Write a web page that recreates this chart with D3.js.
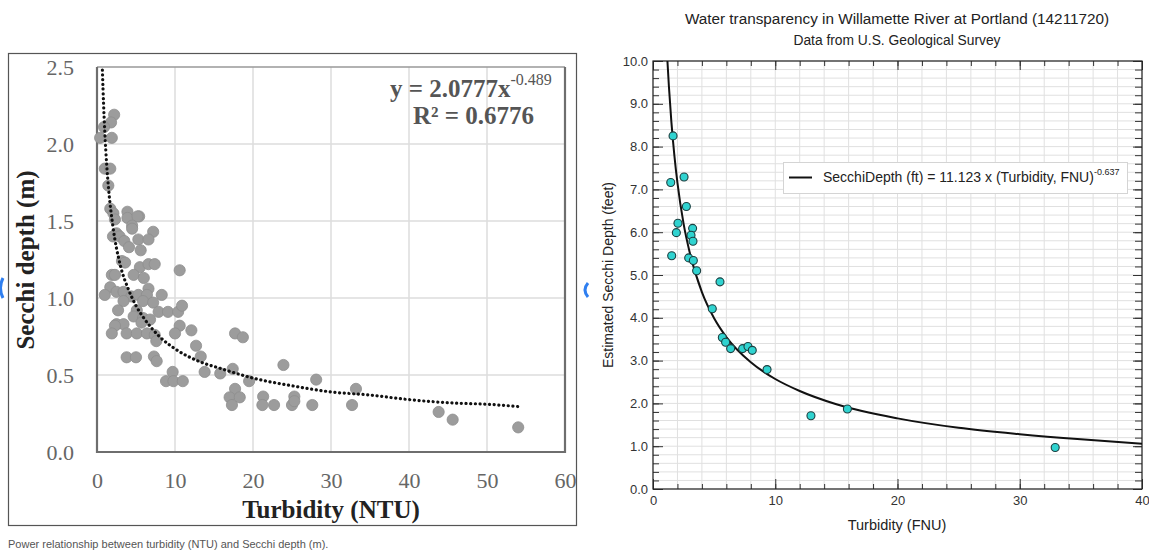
<!DOCTYPE html>
<html>
<head>
<meta charset="utf-8">
<script src="https://cdn.jsdelivr.net/npm/d3@7"></script>
<style>
body { margin: 0; background: #fff; }
svg { display: block; }
</style>
</head>
<body>
<div id="chart"></div>
<script>
// left panel: turbidity (NTU) vs Secchi depth (m), [turbidity, depth]
const ntu_points = [
    [2.2, 2.19], [1.8, 2.14], [0.9, 2.11], [0.4, 2.04], [1.9, 2.04],
    [1.0, 1.84], [1.7, 1.84], [1.45, 1.73], [1.7, 1.58], [2.1, 1.55], [2.3, 1.51],
    [3.9, 1.56], [3.9, 1.52], [5.4, 1.53], [5.2, 1.53], [4.5, 1.47],
    [4.5, 1.45], [7.2, 1.43], [2.5, 1.42], [2.05, 1.40], [2.9, 1.40], [3.5, 1.37], [5.3, 1.38], [6.6, 1.38],
    [4.1, 1.33], [5.6, 1.31], [3.2, 1.24], [3.6, 1.23], [5.5, 1.20], [6.6, 1.22], [7.4, 1.22], [10.6, 1.18],
    [1.9, 1.15], [2.3, 1.15], [4.7, 1.15], [6.0, 1.13], [1.7, 1.07], [1.0, 1.02], [2.5, 1.04], [3.4, 1.04], [6.6, 1.06],
    [4.4, 1.01], [5.3, 1.02], [6.4, 1.02], [8.3, 1.02], [3.4, 0.98], [5.9, 0.98], [7.2, 0.97],
    [2.7, 0.92], [5.1, 0.92], [7.9, 0.91], [9.1, 0.91], [10.4, 0.91], [10.9, 0.95],
    [4.7, 0.88], [5.9, 0.87], [6.8, 0.86], [2.5, 0.83], [3.4, 0.83], [5.7, 0.84], [2.3, 0.82], [10.6, 0.82],
    [1.9, 0.77], [3.8, 0.77], [5.1, 0.77], [6.4, 0.77], [7.4, 0.76], [10.0, 0.77], [12.1, 0.79], [7.6, 0.72],
    [17.7, 0.77], [18.7, 0.745], [12.7, 0.69], [13.3, 0.62], [3.8, 0.615], [5.0, 0.615], [7.3, 0.62], [7.65, 0.59],
    [13.8, 0.52], [9.7, 0.52], [8.85, 0.46], [9.8, 0.46], [11.0, 0.46], [15.8, 0.51], [17.4, 0.54], [19.5, 0.46],
    [17.7, 0.41], [17.0, 0.355], [18.3, 0.355], [17.3, 0.305],
    [23.9, 0.565], [21.3, 0.36], [21.2, 0.305], [22.7, 0.305], [25.0, 0.305], [25.3, 0.36], [25.3, 0.33],
    [28.1, 0.47], [27.6, 0.305], [33.2, 0.41], [32.7, 0.305], [43.8, 0.26], [45.6, 0.21], [54.0, 0.16]
];
// dotted power trendline
const ntu_trend_x = [0.69, 0.85, 1, 1.25, 1.5, 2, 3, 4, 5, 6, 8, 10, 13, 16, 20, 25, 30, 35, 40, 45, 50, 54];
const ntu_trend_y = [2.48, 2.25, 2.08, 1.86, 1.70, 1.48, 1.21, 1.06, 0.95, 0.87, 0.75, 0.67, 0.59, 0.54, 0.48, 0.43, 0.39, 0.37, 0.34, 0.32, 0.31, 0.295];
const ntu_xticks = [0, 10, 20, 30, 40, 50, 60];
const ntu_yticks = [0, 0.5, 1, 1.5, 2, 2.5];

// right panel: Willamette River, [turbidity FNU, secchi ft]
const fnu_points = [
    [1.64, 8.25], [1.45, 7.16], [2.54, 7.29], [2.73, 6.6], [2.04, 6.21], [1.91, 5.99],
    [3.24, 6.09], [3.11, 5.93], [3.27, 5.79], [1.53, 5.45], [2.92, 5.40], [3.30, 5.34],
    [3.57, 5.10], [5.48, 4.84], [4.85, 4.21], [5.67, 3.54], [5.94, 3.43], [6.35, 3.28],
    [7.33, 3.28], [7.77, 3.33], [8.12, 3.24], [9.33, 2.79], [12.92, 1.71], [15.9, 1.87], [32.9, 0.97]
];
const fnu_fit_x = [1.18, 1.3, 1.5, 1.75, 2, 2.5, 3, 4, 5, 6, 8, 10, 12, 15, 20, 25, 30, 35, 40];
const fnu_fit_y = [10.0, 9.41, 8.59, 7.79, 7.15, 6.20, 5.53, 4.60, 3.99, 3.55, 2.96, 2.57, 2.29, 1.98, 1.65, 1.43, 1.28, 1.16, 1.06];

const serif = "'Liberation Serif', 'Times New Roman', serif";
const sans = "'Liberation Sans', Arial, Helvetica, sans-serif";

const svg = d3.select("#chart")
    .append("svg")
    .attr("width", 1149)
    .attr("height", 552)
    .style("background", "#fff");

draw_left();
draw_right();
draw_extras();

function draw_left() {
    const config = {
        left: 97, right: 565, top: 67, bottom: 452,
        grid: "#dcdcdc", text: "#666"
    };
    const g = svg.append("g");

    // outer frame
    g.append("rect")
        .attr("x", 8.5).attr("y", 53.5)
        .attr("width", 568).attr("height", 472)
        .attr("fill", "#fff")
        .attr("stroke", "#555").attr("stroke-width", 1.2);

    const scale_x = d3.scaleLinear().domain([0, 60]).range([config.left, config.right]);
    const scale_y = d3.scaleLinear().domain([0, 2.5]).range([config.bottom, config.top]);

    // grid
    g.append("g").selectAll("line")
        .data(ntu_xticks.slice(1, -1))
        .join("line")
        .attr("x1", d => scale_x(d)).attr("x2", d => scale_x(d))
        .attr("y1", config.top).attr("y2", config.bottom)
        .attr("stroke", config.grid).attr("stroke-width", 1.5);
    g.append("g").selectAll("line")
        .data(ntu_yticks.slice(1, -1))
        .join("line")
        .attr("x1", config.left).attr("x2", config.right)
        .attr("y1", d => scale_y(d)).attr("y2", d => scale_y(d))
        .attr("stroke", config.grid).attr("stroke-width", 1.5);

    // plot border
    g.append("line")
        .attr("x1", config.left).attr("x2", config.right)
        .attr("y1", config.top).attr("y2", config.top)
        .attr("stroke", "#999").attr("stroke-width", 1.5);
    g.append("path")
        .attr("d", `M${config.left},${config.top}V${config.bottom}H${config.right}V${config.top}`)
        .attr("fill", "none")
        .attr("stroke", "#6e6e6e").attr("stroke-width", 2.2);

    // axes, labels only
    const axis_x = d3.axisBottom(scale_x).tickValues(ntu_xticks).tickSize(0).tickPadding(20).tickFormat(d3.format("d"));
    const g_axisX = g.append("g")
        .attr("transform", `translate(0, ${config.bottom})`)
        .call(axis_x);
    const axis_y = d3.axisLeft(scale_y).tickValues(ntu_yticks).tickSize(0).tickPadding(23).tickFormat(d3.format(".1f"));
    const g_axisY = g.append("g")
        .attr("transform", `translate(${config.left}, 0)`)
        .call(axis_y);
    [g_axisX, g_axisY].forEach(a => {
        a.select(".domain").remove();
        a.selectAll("text")
            .attr("font-family", serif)
            .attr("font-size", 22)
            .attr("fill", config.text);
    });

    // points
    g.append("g").selectAll("circle")
        .data(ntu_points)
        .join("circle")
        .attr("cx", d => scale_x(d[0]))
        .attr("cy", d => scale_y(d[1]))
        .attr("r", 5.6)
        .attr("fill", "#9c9c9c")
        .attr("stroke", "#8e8e8e")
        .attr("stroke-width", 0.8);

    // dotted trendline
    const line = d3.line()
        .x((d, i) => scale_x(ntu_trend_x[i]))
        .y(d => scale_y(d))
        .curve(d3.curveMonotoneX);
    g.append("path")
        .attr("d", line(ntu_trend_y))
        .attr("fill", "none")
        .attr("stroke", "#111")
        .attr("stroke-width", 3.2)
        .attr("stroke-linecap", "round")
        .attr("stroke-dasharray", "0.1 4.6");

    // equation
    const eq = g.append("text")
        .attr("x", 390).attr("y", 97)
        .attr("font-family", serif).attr("font-weight", "bold")
        .attr("font-size", 25).attr("fill", "#555");
    eq.append("tspan").text("y = 2.0777x");
    eq.append("tspan").attr("dy", -12).attr("font-size", 16).attr("font-weight", "normal").text("-0.489");
    g.append("text")
        .attr("x", 413).attr("y", 124)
        .attr("font-family", serif).attr("font-weight", "bold")
        .attr("font-size", 25).attr("fill", "#555")
        .text("R² = 0.6776");

    // axis titles
    g.append("text")
        .attr("x", 331).attr("y", 518)
        .attr("text-anchor", "middle")
        .attr("font-family", serif).attr("font-weight", "bold")
        .attr("font-size", 25).attr("fill", "#222")
        .text("Turbidity (NTU)");
    g.append("text")
        .attr("transform", "translate(34, 260) rotate(-90)")
        .attr("text-anchor", "middle")
        .attr("font-family", serif).attr("font-weight", "bold")
        .attr("font-size", 25).attr("fill", "#222")
        .text("Secchi depth (m)");
}

function draw_right() {
    const config = {
        left: 653, right: 1142, top: 61, bottom: 489,
        grid: "#e0e0e0", text: "#333"
    };
    const g = svg.append("g");

    const scale_x = d3.scaleLinear().domain([0, 40]).range([config.left, config.right]);
    const scale_y = d3.scaleLinear().domain([0, 10]).range([config.bottom, config.top]);
    const x_major = scale_x.ticks(4);
    const x_minor = scale_x.ticks(20);
    const y_major = scale_y.ticks(10);
    const y_minor = scale_y.ticks(40);

    // grid
    g.append("g").selectAll("line")
        .data(x_minor)
        .join("line")
        .attr("x1", d => scale_x(d)).attr("x2", d => scale_x(d))
        .attr("y1", config.top).attr("y2", config.bottom)
        .attr("stroke", config.grid).attr("stroke-width", 1);
    g.append("g").selectAll("line")
        .data(y_minor)
        .join("line")
        .attr("x1", config.left).attr("x2", config.right)
        .attr("y1", d => scale_y(d)).attr("y2", d => scale_y(d))
        .attr("stroke", config.grid).attr("stroke-width", 1);

    // ticks inward on all four sides
    const add_axis = (axisFn, scale, values, size, pos, labels) => {
        let axis = axisFn(scale).tickValues(values).tickSizeInner(-size).tickSizeOuter(0);
        axis = labels ? axis.tickPadding(labels).tickFormat(labels === 7 ? d3.format("d") : d3.format(".1f"))
                      : axis.tickFormat("");
        const a = g.append("g").attr("transform", pos).call(axis);
        a.select(".domain").remove();
        a.selectAll("line").attr("stroke", "#333").attr("stroke-width", 1);
        a.selectAll("text")
            .attr("font-family", sans).attr("font-size", 13).attr("fill", config.text);
        return a;
    };
    add_axis(d3.axisBottom, scale_x, x_minor, 5, `translate(0,${config.bottom})`, 0);
    add_axis(d3.axisBottom, scale_x, x_major, 10, `translate(0,${config.bottom})`, 7);
    add_axis(d3.axisTop, scale_x, x_minor, 5, `translate(0,${config.top})`, 0);
    add_axis(d3.axisTop, scale_x, x_major, 9, `translate(0,${config.top})`, 0);
    add_axis(d3.axisLeft, scale_y, y_minor, 6, `translate(${config.left},0)`, 0);
    add_axis(d3.axisLeft, scale_y, y_major, 10, `translate(${config.left},0)`, 5);
    add_axis(d3.axisRight, scale_y, y_minor, 7, `translate(${config.right},0)`, 0);
    add_axis(d3.axisRight, scale_y, y_major, 9, `translate(${config.right},0)`, 0);

    g.append("rect")
        .attr("x", config.left).attr("y", config.top)
        .attr("width", config.right - config.left)
        .attr("height", config.bottom - config.top)
        .attr("fill", "none")
        .attr("stroke", "#222").attr("stroke-width", 1.2);

    // fitted curve
    const line = d3.line()
        .x((d, i) => scale_x(fnu_fit_x[i]))
        .y(d => scale_y(d))
        .curve(d3.curveMonotoneX);
    g.append("path")
        .attr("d", line(fnu_fit_y))
        .attr("fill", "none")
        .attr("stroke", "#111")
        .attr("stroke-width", 2);

    // points
    g.append("g").selectAll("circle")
        .data(fnu_points)
        .join("circle")
        .attr("cx", d => scale_x(d[0]))
        .attr("cy", d => scale_y(d[1]))
        .attr("r", 4)
        .attr("fill", "#30d3d0")
        .attr("stroke", "#1d3f40")
        .attr("stroke-width", 1.1);

    // legend
    g.append("rect")
        .attr("x", 783.5).attr("y", 162.5)
        .attr("width", 344).attr("height", 31)
        .attr("fill", "#fff")
        .attr("stroke", "#d4d4d4");
    g.append("line")
        .attr("x1", 789).attr("x2", 812)
        .attr("y1", 177.5).attr("y2", 177.5)
        .attr("stroke", "#111").attr("stroke-width", 2);
    const lt = g.append("text")
        .attr("x", 823).attr("y", 182)
        .attr("font-family", sans).attr("font-size", 14).attr("fill", "#222");
    lt.append("tspan").text("SecchiDepth (ft) = 11.123 x (Turbidity, FNU)");
    lt.append("tspan").attr("dy", -7).attr("font-size", 9).text("-0.637");

    // titles
    g.append("text")
        .attr("x", 897).attr("y", 24)
        .attr("text-anchor", "middle")
        .attr("font-family", sans).attr("font-size", 15.3).attr("fill", "#222")
        .text("Water transparency in Willamette River at Portland (14211720)");
    g.append("text")
        .attr("x", 897).attr("y", 45)
        .attr("text-anchor", "middle")
        .attr("font-family", sans).attr("font-size", 13.8).attr("fill", "#222")
        .text("Data from U.S. Geological Survey");
    g.append("text")
        .attr("x", 897).attr("y", 530)
        .attr("text-anchor", "middle")
        .attr("font-family", sans).attr("font-size", 14.5).attr("fill", "#222")
        .text("Turbidity (FNU)");
    g.append("text")
        .attr("transform", "translate(613, 275) rotate(-90)")
        .attr("text-anchor", "middle")
        .attr("font-family", sans).attr("font-size", 14).attr("fill", "#222")
        .text("Estimated Secchi Depth (feet)");
}

function draw_extras() {
    // caption
    svg.append("text")
        .attr("x", 8).attr("y", 548)
        .attr("font-family", sans).attr("font-size", 11).attr("fill", "#555")
        .text("Power relationship between turbidity (NTU) and Secchi depth (m).");
    // carousel button edges
    svg.append("path")
        .attr("d", "M3,278 Q-2,288 3,298")
        .attr("fill", "none").attr("stroke", "#2f7ff0").attr("stroke-width", 3);
    svg.append("path")
        .attr("d", "M588,283 Q582,290 588,297")
        .attr("fill", "none").attr("stroke", "#2f7ff0").attr("stroke-width", 3);
}
</script>
</body>
</html>
